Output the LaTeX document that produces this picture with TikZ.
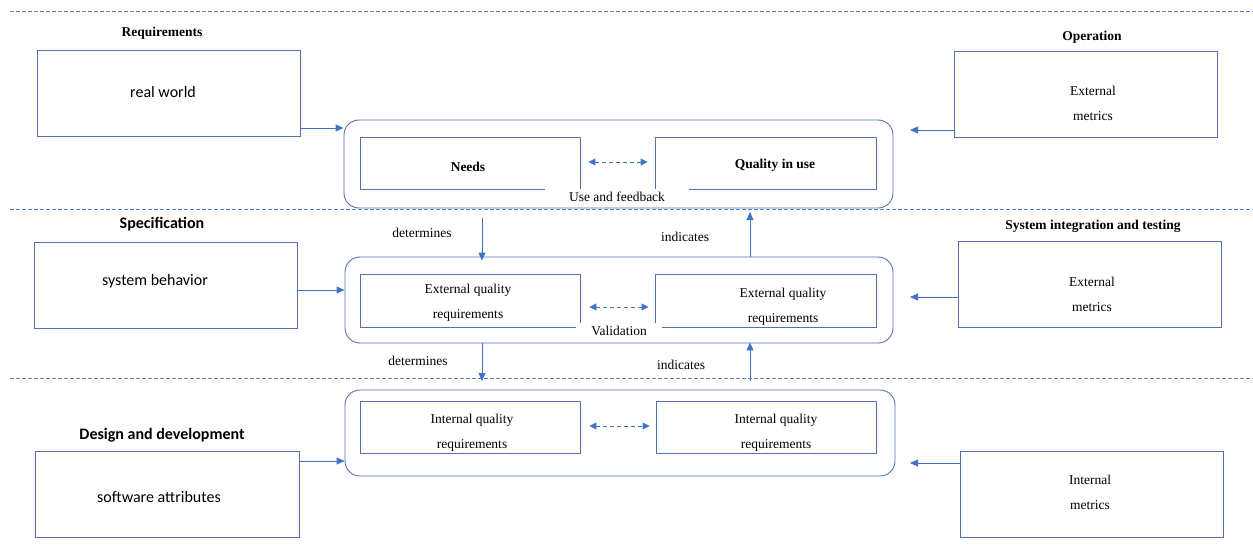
\documentclass[tikz,border=0pt]{standalone}
\usepackage{fontspec}
\setmainfont{Liberation Serif}
\newfontfamily\carlito{Carlito}
\usetikzlibrary{arrows.meta}
\definecolor{boxblue}{HTML}{5271AE}
\definecolor{arrblue}{HTML}{4472C4}
\definecolor{sepblue}{HTML}{5684D2}
\tikzset{
  box/.style={draw=boxblue, line width=0.9pt, inner sep=0pt},
  outerbox/.style={draw=boxblue, line width=0.9pt, rounded corners=15pt, inner sep=0pt},
  serif/.style={font=\fontsize{13.5}{25}\selectfont, align=center, inner sep=0pt},
  sans/.style={font=\carlito\fontsize{16}{20}\selectfont, inner sep=0pt},
  titleserif/.style={font=\bfseries\fontsize{13.5}{16}\selectfont, inner sep=0pt},
  titlesans/.style={font=\carlito\bfseries\fontsize{16}{20}\selectfont, inner sep=0pt},
  gaplabel/.style={serif, fill=white},
  arr/.style={draw=arrblue, line width=0.9pt, -{Triangle[length=8pt,width=7pt]}},
  darr/.style={draw=arrblue, line width=0.9pt, dashed, dash pattern=on 4pt off 3pt,
    {Triangle[length=7pt,width=7pt]}-{Triangle[length=7pt,width=7pt]}},
  sep/.style={draw=sepblue, line width=0.9pt, dash pattern=on 3.5pt off 2.5pt},
}
\begin{document}
\begin{tikzpicture}[x=1pt,y=-1pt]
\useasboundingbox (0,0) rectangle (1253,554);

% phase separators
\draw[sep] (10,11) -- (1253,11);
\draw[sep] (10,209) -- (1253,209);
\draw[sep] (10,378) -- (1253,378);

% phase titles
\node[titleserif] (tReq) at (162,33) {Requirements};
\node[titleserif] (tOp) at (1092,37) {Operation};
\node[titlesans] (tSpec) at (162,224) {Specification};
\node[titleserif] (tSit) at (1093,226) {System integration and testing};
\node[titlesans] (tDes) at (162,435) {Design and development};

% left-hand boxes
\node[box, minimum width=263pt, minimum height=86pt] (rw) at (168.5,93) {};
\node[sans] (rwT) at (163,92) {real world};
\node[box, minimum width=263pt, minimum height=86pt] (sb) at (165.5,285) {};
\node[sans] (sbT) at (155,281) {system behavior};
\node[box, minimum width=264pt, minimum height=86pt] (sa) at (167,494) {};
\node[sans] (saT) at (159,497) {software attributes};

% right-hand metric boxes
\node[box, minimum width=263pt, minimum height=86pt] (em1) at (1085.5,94) {};
\node[serif] (em1T) at (1093,103) {External\\metrics};
\node[box, minimum width=263pt, minimum height=86pt] (em2) at (1089.5,284) {};
\node[serif] (em2T) at (1092,294.5) {External\\metrics};
\node[box, minimum width=263pt, minimum height=86pt] (im) at (1091.5,494) {};
\node[serif] (imT) at (1090,492.5) {Internal\\metrics};

% central quality views
\node[outerbox, minimum width=549pt, minimum height=88pt] (o1) at (618.5,164) {};
\node[outerbox, minimum width=548pt, minimum height=86pt] (o2) at (619,300) {};
\node[outerbox, minimum width=550pt, minimum height=86pt] (o3) at (620,433) {};

\node[box, minimum width=220pt, minimum height=52pt] (n1) at (470,163) {};
\node[titleserif] (n1T) at (468,167) {Needs};
\node[box, minimum width=221pt, minimum height=52pt] (q1) at (765.5,163) {};
\node[titleserif] (q1T) at (775,165) {Quality in use};

\node[box, minimum width=220pt, minimum height=53pt] (e2l) at (470,300.5) {};
\node[serif] (e2lT) at (468,302.5) {External quality\\requirements};
\node[box, minimum width=221pt, minimum height=53pt] (e2r) at (765.5,300.5) {};
\node[serif] (e2rT) at (783,306.5) {External quality\\requirements};

\node[box, minimum width=220pt, minimum height=52pt] (i3l) at (470,427) {};
\node[serif] (i3lT) at (472,432.5) {Internal quality\\requirements};
\node[box, minimum width=220pt, minimum height=52pt] (i3r) at (766,427) {};
\node[serif] (i3rT) at (776,432.5) {Internal quality\\requirements};

% labels sitting in the gap between paired boxes
\node[gaplabel, minimum width=144pt, minimum height=16pt] (uf) at (617,197) {Use and feedback};
\node[gaplabel, minimum width=86pt, minimum height=16pt] (val) at (619,331) {Validation};

% paired-view links
\draw[darr, shorten <=8pt, shorten >=7pt] (n1.east |- 0,162) -- (q1.west |- 0,162);
\draw[darr, shorten <=9pt, shorten >=6pt] (e2l.east |- 0,307) -- (e2r.west |- 0,307);
\draw[darr, shorten <=9pt, shorten >=6pt] (i3l.east |- 0,426) -- (i3r.west |- 0,426);

% inputs from the left
\draw[arr] (rw.east |- 0,128) -- (o1.west |- 0,128);
\draw[arr] (sb.east |- 0,290) -- (o2.west |- 0,290);
\draw[arr] (sa.east |- 0,461) -- (o3.west |- 0,461);

% metrics feeding back from the right
\coordinate (m1) at (910,130);
\coordinate (m2) at (910,297);
\coordinate (m3) at (910,463);
\draw[arr] (em1.west |- m1) -- (m1);
\draw[arr] (em2.west |- m2) -- (m2);
\draw[arr] (im.west |- m3) -- (m3);

% determines / indicates between levels
\coordinate (d1) at (482,218);
\coordinate (u1) at (750,212);
\coordinate (d2) at (482,381);
\coordinate (u2) at (750,381);
\draw[arr, shorten >=-4pt] (d1) -- (d1 |- o2.north);
\draw[arr] (u1 |- o2.north) -- (u1);
\draw[arr] (d1 |- o2.south) -- (d2);
\draw[arr, shorten >=-1pt] (u2) -- (u2 |- o2.south);

\node[serif] (det1) at (422,233) {determines};
\node[serif] (ind1) at (685,237) {indicates};
\node[serif] (det2) at (418,361) {determines};
\node[serif] (ind2) at (681,365) {indicates};
\end{tikzpicture}
\end{document}
